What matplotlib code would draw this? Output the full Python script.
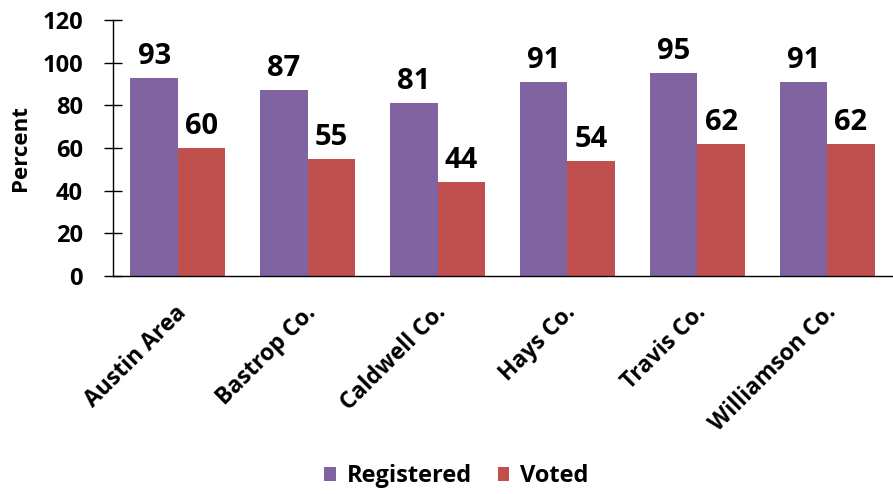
import matplotlib
matplotlib.use("Agg")
import matplotlib.pyplot as plt
import matplotlib.transforms as mtransforms
import numpy as np

plt.rcParams["font.family"] = ["Open Sans", "DejaVu Sans"]
plt.rcParams["font.weight"] = "bold"

CATEGORIES = ["Austin Area", "Bastrop Co.", "Caldwell Co.", "Hays Co.", "Travis Co.", "Williamson Co."]
REGISTERED = [93, 87, 81, 91, 95, 91]
VOTED = [60, 55, 44, 54, 62, 62]
Y_TICKS = [0, 20, 40, 60, 80, 100, 120]

PURPLE = "#8064A2"
RED = "#C0504D"

fig = plt.figure(figsize=(8.93, 4.94), dpi=100)
ax = fig.add_axes([0.1265, 0.4413, 0.8725, 0.5182])

x = np.arange(len(CATEGORIES))
w = 0.365
b1 = ax.bar(x - w / 2, REGISTERED, w, color=PURPLE, label="Registered")
b2 = ax.bar(x + w / 2, VOTED, w, color=RED, label="Voted")

for bars, vals in [(b1, REGISTERED), (b2, VOTED)]:
    for bar, v in zip(bars, vals):
        ax.annotate(f"{v}", (bar.get_x() + bar.get_width() / 2, v), xytext=(0, 5),
                    textcoords="offset points", ha="center", va="bottom",
                    fontsize=21, fontweight="bold")

ax.set_xlim(-0.5, len(CATEGORIES) - 0.5)
ax.set_ylim(0, 120)
ax.set_yticks(Y_TICKS)
ax.tick_params(axis="y", direction="inout", length=13, width=1, pad=15, labelsize=17)
ax.tick_params(axis="x", length=0, pad=24)
ax.set_xticks(x)
ax.set_xticklabels(CATEGORIES, rotation=45, ha="right", va="center", rotation_mode="anchor",
                   fontsize=16.5, fontweight="bold")
shift = mtransforms.ScaledTranslation(5 / 100, 0, fig.dpi_scale_trans)
for lbl in ax.get_xticklabels():
    lbl.set_transform(lbl.get_transform() + shift)
for lbl in ax.get_yticklabels():
    lbl.set_fontweight("bold")
ax.set_ylabel("Percent", fontsize=16, fontweight="bold", labelpad=8)

for s in ["top", "right"]:
    ax.spines[s].set_visible(False)
ax.spines["left"].set_linewidth(1)
ax.spines["bottom"].set_linewidth(1)

fig.legend(handles=[b1, b2], loc="center", bbox_to_anchor=(0.511, 0.036), ncol=2,
           frameon=False, handlelength=0.5, handleheight=0.5,
           handletextpad=0.45, columnspacing=1.1, prop={"weight": "bold", "size": 17})

fig.savefig("out.png", dpi=100)
